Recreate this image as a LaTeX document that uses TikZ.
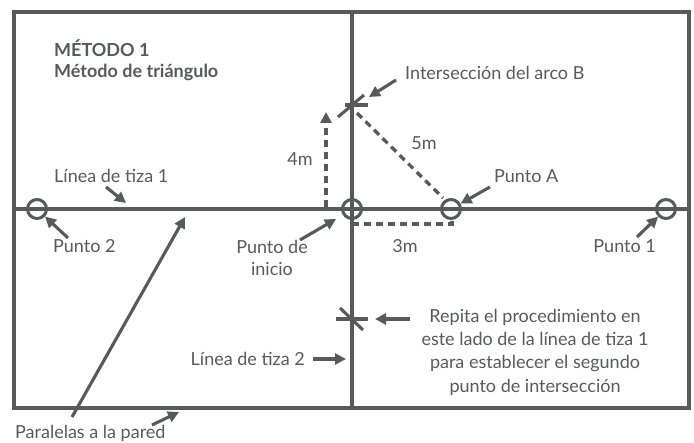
\documentclass[tikz,border=0pt]{standalone}
\usepackage{fontspec}
\setmainfont{Lato}
\usetikzlibrary{arrows.meta,calc}
\definecolor{ink}{HTML}{58595B}
\begin{document}
\begin{tikzpicture}[x=1pt,y=-1pt,
  thin line/.style={draw=ink,line width=3.1pt},
  ptr/.style={draw=ink,line width=3.1pt,-{Triangle[length=11pt,width=11pt]}},
  dline/.style={draw=ink,line width=3.3pt,dash pattern=on 7pt off 5pt},
  lbl/.style={text=ink,font=\fontsize{18}{21}\selectfont,inner sep=0pt},
  ttl/.style={text=ink,font=\fontsize{18}{21}\selectfont\bfseries,inner sep=0pt,anchor=west},
  pt/.style={circle,draw=ink,line width=3pt,minimum size=19pt,inner sep=0pt},
]
\useasboundingbox (0,0) rectangle (694,443);
% frame and chalk lines
\draw[ink,line width=3.6pt] (14,12) rectangle (689,408);
\draw[thin line] (14,209) -- (689,209);
\draw[thin line] (352,12) -- (352,408);
% points
\node[pt] (p2) at (37,209) {};
\node[pt] (p0) at (352,209) {};
\node[pt] (pA) at (451,209) {};
\node[pt] (p1) at (666,209) {};
% crosses
\coordinate (B) at (352,105);
\draw[thin line] (345,105) -- (368,105);
\draw[thin line] (338,117) -- (364,95);
\coordinate (C) at (352,319);
\draw[thin line] (336,319) -- (368,319);
\draw[thin line] (340,308) -- (363,330);
% dashed triangle
\coordinate (d4s) at (326,207);
\coordinate (d4e) at (326,112);
\draw[dline,-{Triangle[length=11pt,width=11pt]}] (d4s) -- (d4e);
\draw[dline] (352,224) -- (452,224) -- (452,219);
\draw[dline] (357,113) -- (443,198);
% titles
\node[ttl] (t1) at (54,48) {MÉTODO 1};
\node[ttl] (t2) at (54,72) {Método de triángulo};
% labels
\node[lbl,anchor=west] (l1) at (54,176) {Línea de tiza 1};
\coordinate (l1t) at (126,203);
\draw[ptr] (106,187) -- (l1t);
\node[lbl] (m4) at (300,159) {4m};
\node[lbl,anchor=west] (ib) at (405,73) {Intersección del arco B};
\coordinate (ibt) at (369,97);
\draw[ptr] (396,80) -- (ibt);
\node[lbl] (m5) at (424,143) {5m};
\node[lbl,anchor=west] (la) at (494,176) {Punto A};
\draw[ptr] (490,187) -- (pA);
\node[lbl,anchor=west] (l2) at (53,246) {Punto 2};
\draw[ptr] (68,238) -- (p2);
\node[lbl,align=center,font=\fontsize{18}{22}\selectfont] (li) at (272,258) {Punto de\\inicio};
\coordinate (lit) at (336,219);
\draw[ptr] (300,240) -- (lit);
\node[lbl] (m3) at (405,246) {3m};
\node[lbl,anchor=east] (lp1) at (656,246) {Punto 1};
\draw[ptr] (637,237) -- (p1);
\node[lbl,align=center,font=\fontsize{18}{23.3}\selectfont] (rep) at (535,352) {Repita el procedimiento en\\este lado de la línea de tiza 1\\para establecer el segundo\\punto de intersección};
\coordinate (rept) at (375,319);
\draw[ptr] (410,319) -- (rept);
\node[lbl,anchor=east] (lt2) at (305,359) {Línea de tiza 2};
\coordinate (lt2t) at (346,359);
\draw[ptr] (313,359) -- (lt2t);
\node[lbl,anchor=west] (par) at (15,433) {Paralelas a la pared};
\coordinate (part) at (185,217);
\draw[ptr] (72,417) -- (part);
\coordinate (parw) at (179,412);
\draw[ptr] (152,425) -- (parw);
\end{tikzpicture}
\end{document}
